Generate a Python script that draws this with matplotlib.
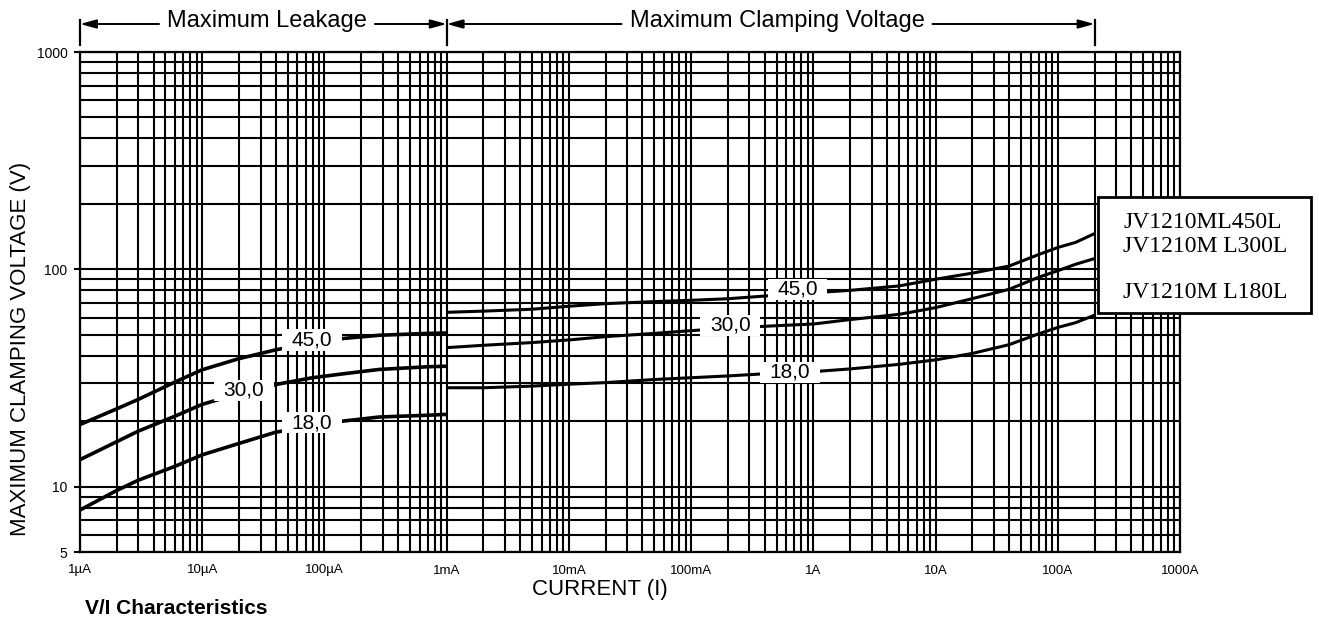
import numpy as np
import matplotlib
matplotlib.use("Agg")
import matplotlib.pyplot as plt
from matplotlib.ticker import LogLocator, NullFormatter
from matplotlib.patches import Rectangle
from matplotlib.lines import Line2D

plt.rcParams['font.family'] = ['Liberation Sans', 'DejaVu Sans']

# ---------------- data ----------------
leak_I = [1e-6, 2e-6, 3e-6, 6e-6, 1e-5, 2e-5, 4e-5, 8e-5, 1.4e-4, 2.8e-4, 7e-4, 1e-3]
leak_45 = [19.3, 22.8, 25.2, 30.3, 34.5, 38.8, 42.6, 46.0, 48.0, 49.7, 50.7, 50.9]
leak_30 = [13.3, 16.1, 18.0, 21.1, 23.9, 26.8, 29.5, 31.7, 33.0, 34.6, 35.6, 35.8]
leak_18 = [7.8, 9.6, 10.7, 12.4, 14.0, 15.8, 17.8, 19.0, 20.0, 20.9, 21.3, 21.5]

clamp_I = [1e-3, 2e-3, 5e-3, 1e-2, 2e-2, 5e-2, 0.1, 0.2, 0.5, 1, 2, 5, 10, 20, 40, 70, 100, 140, 200]
clamp_45 = [63.4, 64.2, 65.5, 67.6, 69.5, 71.0, 72.0, 73.2, 76.0, 78.0, 80.0, 83.8, 90.0, 96.0,
            103.5, 117.0, 126.0, 133.0, 146.0]
clamp_30 = [43.6, 44.7, 46.0, 47.3, 49.0, 50.7, 52.2, 53.6, 55.0, 56.0, 58.7, 62.0, 66.6, 73.3,
            80.9, 92.0, 98.5, 105.5, 112.0]
clamp_18 = [28.5, 28.5, 29.0, 29.6, 30.1, 31.1, 31.7, 32.3, 33.3, 33.8, 34.8, 36.5, 38.3, 41.0,
            45.0, 50.5, 54.0, 56.8, 61.5]

curve_labels = ['45,0', '30,0', '18,0']
leak_label_I = [7.9e-5, 2.2e-5, 7.9e-5]
leak_label_V = [47.3, 27.7, 19.7]
clamp_label_I = [0.745, 0.209, 0.645]
clamp_label_V = [80.8, 55.2, 33.5]

x_tick_vals = [1e-6, 1e-5, 1e-4, 1e-3, 1e-2, 1e-1, 1, 10, 100, 1000]
x_tick_labels = ['1µA', '10µA', '100µA', '1mA', '10mA', '100mA', '1A', '10A', '100A', '1000A']
y_tick_vals = [5, 10, 100, 1000]
y_tick_labels = ['5', '10', '100', '1000']

legend_names = ['JV1210ML450L', 'JV1210M L300L', 'JV1210M L180L']

# ---------------- figure ----------------
W, H = 1319, 624
fig = plt.figure(figsize=(W / 100, H / 100), dpi=100)
ax = fig.add_axes([80 / W, 72 / H, 1100 / W, 500 / H])
ax.set_xscale('log')
ax.set_yscale('log')
ax.set_xlim(1e-6, 1e3)
ax.set_ylim(5, 1000)

ax.set_xticks(x_tick_vals, x_tick_labels)
ax.xaxis.set_minor_locator(LogLocator(base=10, subs=np.arange(2, 10), numticks=30))
ax.xaxis.set_minor_formatter(NullFormatter())
ax.set_yticks(y_tick_vals, y_tick_labels)
ax.yaxis.set_minor_locator(LogLocator(base=10, subs=np.arange(2, 10), numticks=30))
ax.yaxis.set_minor_formatter(NullFormatter())

ax.grid(which='both', color='black', lw=1.5)
ax.set_axisbelow(True)
for s in ax.spines.values():
    s.set_linewidth(1.6)
ax.tick_params(axis='x', which='both', length=0, pad=9, labelsize=9.5)
ax.tick_params(axis='y', which='major', length=4, width=1.5, pad=5, labelsize=10)
ax.tick_params(axis='y', which='minor', length=0)

for v in (leak_45, leak_30, leak_18):
    ax.plot(leak_I, v, color='black', lw=2.6, solid_capstyle='butt', zorder=3)
for v in (clamp_45, clamp_30, clamp_18):
    ax.plot(clamp_I, v, color='black', lw=2.2, solid_capstyle='butt', zorder=3)

box = dict(boxstyle='square,pad=0.45', fc='white', ec='none', mutation_aspect=0.12)
for lab, xi, yi in zip(curve_labels, leak_label_I, leak_label_V):
    ax.text(xi, yi, lab, ha='center', va='center', fontsize=15, bbox=box, zorder=4)
for lab, xi, yi in zip(curve_labels, clamp_label_I, clamp_label_V):
    ax.text(xi, yi, lab, ha='center', va='center', fontsize=15, bbox=box, zorder=4)

# axis titles
fig.text(21 / W, 1 - 349 / H, 'MAXIMUM CLAMPING VOLTAGE (V)', rotation=90,
         ha='center', va='center', fontsize=16)
fig.text(600 / W, 1 - 589 / H, 'CURRENT (I)', ha='center', va='center', fontsize=16)
fig.text(85 / W, 1 - 608 / H, 'V/I Characteristics', ha='left', va='center',
         fontsize=15, fontweight='bold')

# legend box
fig.add_artist(Rectangle((1098 / W, 1 - 313 / H), 213 / W, 116 / H, transform=fig.transFigure,
                         fc='white', ec='black', lw=2.0, zorder=5))
for name, yy in zip(legend_names, [222, 247, 293]):
    fig.text(1123 / W, 1 - yy / H, name, ha='left', va='center', fontsize=17,
             family='Liberation Serif', zorder=6)

# top region annotations
fig.canvas.draw()
bx = [ax.transData.transform((x, 10))[0] for x in (1e-6, 1e-3, 200)]
ytop = H - 24
for x in bx:
    fig.add_artist(Line2D([x / W, x / W], [(H - 20) / H, (H - 45) / H], color='black', lw=1.6,
                          transform=fig.transFigure))
t1 = fig.text(267 / W, (H - 21) / H, 'Maximum Leakage', ha='center', va='center', fontsize=17)
t2 = fig.text(777 / W, (H - 21) / H, 'Maximum Clamping Voltage', ha='center', va='center',
              fontsize=17)
fig.canvas.draw()
r = fig.canvas.get_renderer()
e1 = t1.get_window_extent(r)
e2 = t2.get_window_extent(r)
aprops = dict(arrowstyle='-|>,head_length=0.8,head_width=0.22', color='black', lw=1.4,
              shrinkA=0, shrinkB=0, mutation_scale=12)
for (xa, xb) in [(e1.x0 - 8, bx[0]), (e1.x1 + 8, bx[1]), (e2.x0 - 8, bx[1]), (e2.x1 + 8, bx[2])]:
    fig.add_artist(matplotlib.text.Annotation('', xy=(xb, ytop), xytext=(xa, ytop),
                                              xycoords='figure pixels', textcoords='figure pixels',
                                              arrowprops=aprops))

fig.savefig('out.png', dpi=100)
